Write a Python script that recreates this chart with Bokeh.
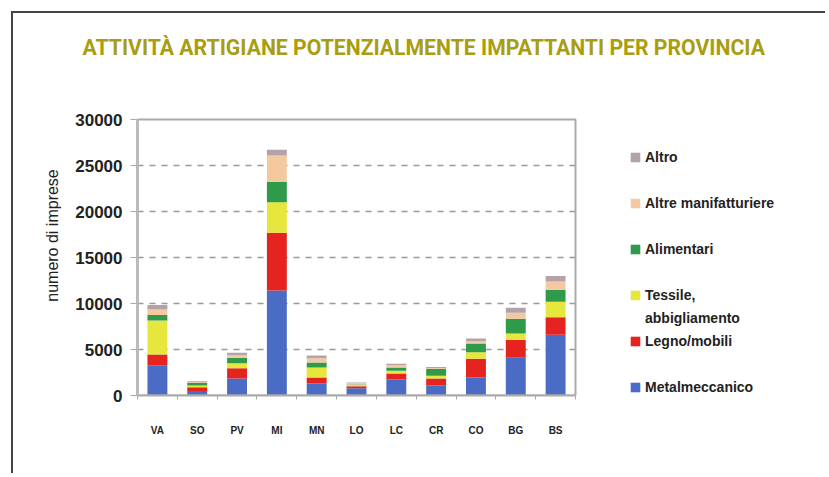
from bokeh.plotting import figure
from bokeh.models import (ColumnDataSource, Legend, LegendItem,
                          FixedTicker, Range1d)
from bokeh.embed import file_html
from bokeh.resources import INLINE

# ---- data ----
provinces = ["VA", "SO", "PV", "MI", "MN", "LO", "LC", "CR", "CO", "BG", "BS"]
metalmeccanico = [3300, 500, 1850, 11400, 1300, 800, 1750, 1100, 1950, 4100, 6600]
legno_mobili = [1150, 400, 1100, 6300, 650, 200, 650, 750, 2050, 1950, 1900]
tessile = [3700, 200, 550, 3300, 1100, 150, 300, 300, 700, 700, 1700]
alimentari = [600, 250, 600, 2200, 550, 50, 350, 750, 950, 1600, 1300]
altre_manifatturiere = [600, 100, 300, 2900, 450, 150, 250, 100, 250, 650, 900]
altro = [500, 100, 250, 600, 300, 50, 150, 100, 300, 550, 600]
y_ticks = [0, 5000, 10000, 15000, 20000, 25000, 30000]

keys = ["metal", "legno", "tessile", "alim", "altre", "altro"]
colors = ["#4a6cc4", "#e5231f", "#e6e63c", "#2e9a4a", "#f4c9a0", "#b3a3a8"]

n = len(provinces)
xpos = [i + 0.5 for i in range(n)]
source = ColumnDataSource(dict(x=xpos, prov=provinces, metal=metalmeccanico,
                               legno=legno_mobili, tessile=tessile, alim=alimentari,
                               altre=altre_manifatturiere, altro=altro))

# ---- layout (page pixels) ----
ORIGIN = 13                       # canvas origin on the page
CHART_L, CHART_R, CHART_T, CHART_B = 137, 575, 119, 395   # drawn plot box
FRAME_R, FRAME_T = 812, 75        # frame is larger, to hold the legend
W, H = 814, 462
x_end = n * (FRAME_R - CHART_L) / (CHART_R - CHART_L)
y_end = y_ticks[-1] * (CHART_B - FRAME_T) / (CHART_B - CHART_T)

p = figure(x_range=Range1d(0, x_end), y_range=Range1d(0, y_end),
           width=W, height=H, output_backend="svg", toolbar_location=None,
           min_border_left=CHART_L - ORIGIN, min_border_right=W - (FRAME_R - ORIGIN),
           min_border_top=FRAME_T - ORIGIN, min_border_bottom=H - (CHART_B - ORIGIN))
p.styles = {"border-left": "2px solid #444", "border-top": "2px solid #444",
            "margin-left": "11px", "margin-top": "11px"}
p.outline_line_color = None
p.xgrid.visible = False
p.ygrid.visible = False

# dashed grid lines across the chart box
p.segment(x0=0, x1=n, y0=y_ticks[1:-1], y1=y_ticks[1:-1], line_color="#999999",
          line_dash="6 6", line_width=1.5)

rs = p.vbar_stack(keys, x="x", width=0.5, color=colors, line_color=None,
                  source=source)
r_by_key = dict(zip(keys, rs))
blank = p.vbar(x=[], top=[], width=0.5, fill_alpha=0, line_alpha=0)

# plot box
p.quad(left=[0], right=[n], bottom=[0], top=[y_ticks[-1]], fill_color=None,
       line_color="#aaaaaa", line_width=2)

p.yaxis.bounds = (0, y_ticks[-1])
p.yaxis.ticker = FixedTicker(ticks=y_ticks)
p.yaxis.formatter.use_scientific = False
p.yaxis.major_label_text_font = "Liberation Sans"
p.yaxis.major_label_text_font_style = "bold"
p.yaxis.major_label_text_font_size = "17px"
p.yaxis.major_label_text_color = "#222222"
p.yaxis.axis_line_color = "#bbbbbb"
p.yaxis.axis_line_width = 3
p.yaxis.major_tick_out = 7
p.yaxis.major_tick_in = 0
p.yaxis.major_tick_line_color = "#aaaaaa"
p.yaxis.minor_tick_line_color = None
p.yaxis.major_label_standoff = 8
p.yaxis.axis_label = "numero di imprese"
p.yaxis.axis_label_text_font = "Liberation Sans"
p.yaxis.axis_label_text_font_style = "normal"
p.yaxis.axis_label_text_font_size = "16px"
p.yaxis.axis_label_text_color = "#222222"
p.yaxis.axis_label_standoff = 11

p.xaxis.bounds = (0, n)
p.xaxis.ticker = FixedTicker(ticks=xpos, minor_ticks=list(range(n + 1)))
p.xaxis.major_label_overrides = {x: name for x, name in zip(xpos, provinces)}
p.xaxis.axis_line_color = "#aaaaaa"
p.xaxis.axis_line_width = 2
p.xaxis.major_tick_line_color = None
p.xaxis.minor_tick_line_color = "#aaaaaa"
p.xaxis.minor_tick_out = 4
p.xaxis.minor_tick_in = 0
p.xaxis.major_label_standoff = 23
p.xaxis.major_label_text_font = "Liberation Sans"
p.xaxis.major_label_text_font_style = "bold"
p.xaxis.major_label_text_font_size = "10px"
p.xaxis.major_label_text_color = "#222222"

p.title.text = "ATTIVITÀ ARTIGIANE POTENZIALMENTE IMPATTANTI PER PROVINCIA"
p.title.align = "left"
p.title.offset = -55
p.title.standoff = 32
p.title.text_font = "Roboto"
p.title.text_font_style = "bold"
p.title.text_font_size = "21.2px"
p.title.text_color = "#a99d10"

# legend: pitch of 23 px, blank rows make the gaps
rows = [("Altro", r_by_key["altro"]), (" ", blank),
        ("Altre manifatturiere", r_by_key["altre"]), (" ", blank),
        ("Alimentari", r_by_key["alim"]), (" ", blank),
        ("Tessile,", r_by_key["tessile"]), ("abbigliamento", blank),
        ("Legno/mobili", r_by_key["legno"]), (" ", blank),
        ("Metalmeccanico", r_by_key["metal"])]
legend = Legend(items=[LegendItem(label=t, renderers=[r]) for t, r in rows],
                location=(629 - CHART_L, -3), padding=0, margin=0, spacing=0,
                glyph_width=12, glyph_height=12, label_standoff=4,
                label_height=23, border_line_color=None, background_fill_alpha=0,
                label_text_font="Liberation Sans", label_text_font_style="bold",
                label_text_font_size="14px", label_text_color="#222222")
p.add_layout(legend, "center")

open("out.html", "w").write(file_html(p, INLINE))
